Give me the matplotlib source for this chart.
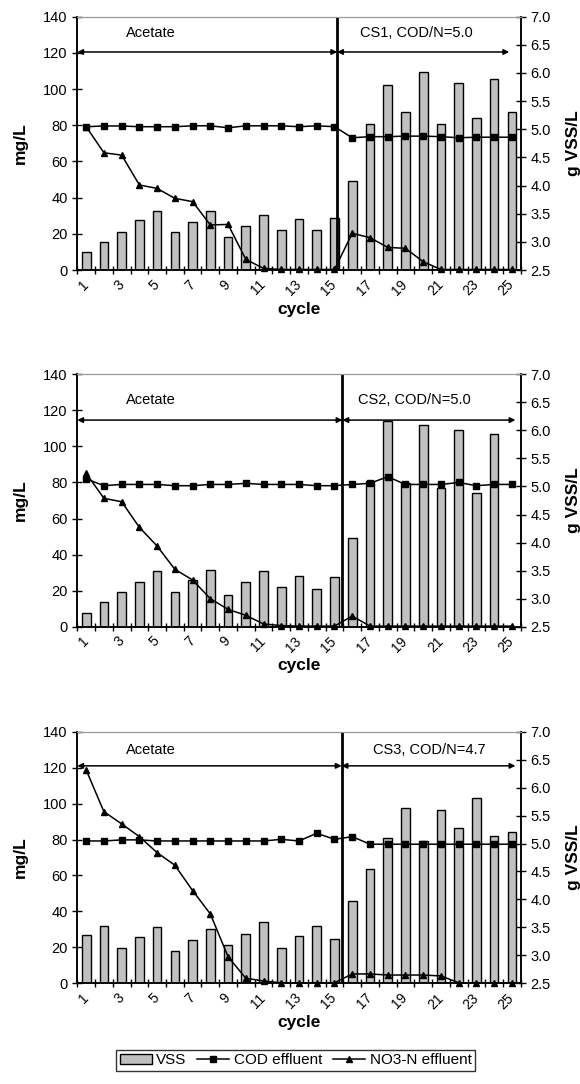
import numpy as np
import matplotlib
matplotlib.use('Agg')
import matplotlib.pyplot as plt
import matplotlib.transforms as mtransforms
from matplotlib.patches import Patch
from matplotlib.lines import Line2D

plt.rcParams['font.family'] = ['Liberation Sans', 'DejaVu Sans']

cycles = np.arange(1, 26)
tick_labels = [str(c) for c in cycles[::2]]

# VSS (g VSS/L), COD effluent and NO3-N effluent (mg/L) per panel
vss1 = [2.82, 3.00, 3.18, 3.38, 3.55, 3.18, 3.36, 3.54, 3.09, 3.28, 3.48, 3.21, 3.41,
        3.21, 3.42, 4.09, 5.09, 5.79, 5.31, 6.01, 5.09, 5.82, 5.20, 5.90, 5.30]
cod1 = [79.2, 79.6, 79.6, 79.2, 79.2, 79.2, 79.7, 79.7, 78.6, 79.7, 79.7, 79.7, 79.2,
        79.7, 79.2, 73.1, 73.7, 73.7, 74.0, 74.0, 73.7, 73.1, 73.4, 73.4, 73.4]
no3_1 = [79.2, 64.8, 63.5, 47.0, 45.1, 39.6, 37.8, 24.9, 25.2, 5.9, 0.9, 0.3, 0.3,
         0.3, 0.3, 20.3, 17.9, 12.5, 12.0, 4.6, 0.3, 0.3, 0.3, 0.3, 0.3]

vss2 = [2.75, 2.94, 3.12, 3.29, 3.49, 3.12, 3.34, 3.51, 3.07, 3.29, 3.49, 3.21, 3.40,
        3.18, 3.38, 4.08, 5.10, 6.17, 5.06, 6.09, 4.98, 6.01, 4.89, 5.94, np.nan]
cod2 = [82.0, 78.2, 78.9, 78.9, 78.9, 78.2, 78.2, 78.9, 78.9, 79.5, 78.9, 78.9, 78.9,
        78.2, 78.2, 78.9, 79.5, 83.2, 78.9, 78.9, 78.9, 80.0, 78.2, 78.9, 78.9]
no3_2 = [85.0, 71.2, 69.3, 55.1, 44.7, 31.8, 25.9, 15.5, 9.6, 6.3, 1.5, 0.6, 0.3,
         0.3, 0.3, 5.9, 0.3, 0.3, 0.3, 0.3, 0.3, 0.3, 0.3, 0.3, 0.3]

vss3 = [3.36, 3.53, 3.14, 3.32, 3.50, 3.08, 3.27, 3.47, 3.18, 3.38, 3.60, 3.14, 3.34,
        3.53, 3.29, 3.98, 4.54, 5.09, 5.64, 5.05, 5.60, 5.27, 5.82, 5.14, 5.20]
cod3 = [79.2, 79.2, 79.8, 79.8, 79.2, 79.2, 79.2, 79.2, 79.2, 79.2, 79.2, 80.1, 79.2,
        83.5, 80.1, 81.6, 77.4, 77.4, 77.4, 77.4, 77.4, 77.4, 77.4, 77.4, 77.4]
no3_3 = [118.7, 95.5, 88.7, 81.6, 72.7, 65.7, 51.6, 38.6, 14.8, 2.8, 1.3, 0.3, 0.3,
         0.3, 0.3, 5.2, 5.2, 4.6, 4.6, 4.6, 4.1, 0.3, 0.3, 0.3, 0.3]

phase_labels = ['CS1, COD/N=5.0', 'CS2, COD/N=5.0', 'CS3, COD/N=4.7']

panels = [
    dict(vss=vss1, cod=cod1, no3=no3_1, label=phase_labels[0], split=15.15,
         arrow_y=120.5, text_y=130.8, arrow_end=24.85, text_x=19.6, bottom=0.7509, height=0.2337),
    dict(vss=vss2, cod=cod2, no3=no3_2, label=phase_labels[1], split=15.45,
         arrow_y=114.6, text_y=125.7, arrow_end=25.2, text_x=19.5, bottom=0.4219, height=0.2328),
    dict(vss=vss3, cod=cod3, no3=no3_3, label=phase_labels[2], split=15.4,
         arrow_y=121.0, text_y=129.6, arrow_end=25.2, text_x=20.35, bottom=0.0929, height=0.2321),
]

bar_color = '#c0c0c0'
fig = plt.figure(figsize=(5.8, 10.84), dpi=100)
shift = mtransforms.ScaledTranslation(-4 / 100, -2 / 100, fig.dpi_scale_trans)

for p in panels:
    ax = fig.add_axes([0.1333, p['bottom'], 0.7645, p['height']])
    ax2 = ax.twinx()

    # bars on right axis, lines on left axis drawn on top
    ax2.bar(cycles, p['vss'], width=0.49, color=bar_color, edgecolor='black', linewidth=1.0)
    ax2.set_ylim(2.5, 7.0)
    ax2.set_yticks(np.arange(2.5, 7.01, 0.5))
    ax2.set_yticklabels([f'{v:.1f}' for v in np.arange(2.5, 7.01, 0.5)])

    ax.set_zorder(ax2.get_zorder() + 1)
    ax.patch.set_visible(False)
    ax.plot(cycles, p['cod'], color='black', lw=1.1, marker='s', ms=4.5, clip_on=False)
    ax.plot(cycles, p['no3'], color='black', lw=1.1, marker='^', ms=5, clip_on=False)
    ax.set_ylim(0, 140)
    ax.set_yticks(np.arange(0, 141, 20))
    ax.set_xlim(0.5, 25.5)

    ax.axvline(p['split'], color='black', lw=2)
    arrow = dict(arrowstyle='<|-|>', color='black', lw=1.1, mutation_scale=8, shrinkA=0, shrinkB=0)
    ax.annotate('', xy=(p['split'], p['arrow_y']), xytext=(0.5, p['arrow_y']), arrowprops=arrow)
    ax.annotate('', xy=(p['arrow_end'], p['arrow_y']), xytext=(p['split'], p['arrow_y']), arrowprops=arrow)
    ax.text(4.65, p['text_y'], 'Acetate', ha='center', va='center', fontsize=10.5)
    ax.text(p['text_x'], p['text_y'], p['label'], ha='center', va='center', fontsize=10.5)

    # category axis: ticks between categories, labels on odd cycles
    ax.set_xticks(cycles[::2])
    ax.set_xticklabels(tick_labels, rotation=45, ha='right', va='center', rotation_mode='anchor')
    for lab in ax.get_xticklabels():
        lab.set_transform(lab.get_transform() + shift)
    ax.set_xticks(np.arange(0.5, 25.6, 1), minor=True)
    ax.tick_params(axis='x', which='major', length=0, pad=9, labelsize=10)
    ax.tick_params(axis='x', which='minor', direction='inout', length=6, width=1)
    ax.tick_params(axis='y', direction='inout', length=7, width=1, labelsize=10.5)
    ax2.tick_params(axis='y', direction='inout', length=7, width=1, labelsize=10.5)

    for a in (ax, ax2):
        a.spines['top'].set_color('#999999')
        a.spines['top'].set_linewidth(0.8)
        a.spines['left'].set_linewidth(1.1)
        a.spines['right'].set_linewidth(1.1)
        a.spines['bottom'].set_linewidth(1.1)

    ax.set_ylabel('mg/L', fontsize=12.5, fontweight='bold', ha='center', va='center')
    ax.yaxis.set_label_coords(-0.129, 0.5)
    ax2.set_ylabel('g VSS/L', fontsize=12.5, fontweight='bold', rotation=90, ha='center', va='center')
    ax2.yaxis.set_label_coords(1.118, 0.5)
    ax.set_xlabel('cycle', fontsize=12.5, fontweight='bold')
    ax.xaxis.set_label_coords(0.5, -0.125)

handles = [Patch(facecolor=bar_color, edgecolor='black'),
           Line2D([], [], color='black', lw=1.1, marker='s', ms=4.5),
           Line2D([], [], color='black', lw=1.1, marker='^', ms=5)]
leg = fig.legend(handles, ['VSS', 'COD effluent', 'NO3-N effluent'], ncol=3, loc='center',
                 bbox_to_anchor=(0.5095, 0.0217), fontsize=11, frameon=True, fancybox=False,
                 handlelength=2.1, handletextpad=0.3, columnspacing=0.7, borderpad=0.25,
                 borderaxespad=0)
leg.get_frame().set_edgecolor('black')
leg.get_frame().set_linewidth(1.0)

fig.savefig('out.png', dpi=100)
